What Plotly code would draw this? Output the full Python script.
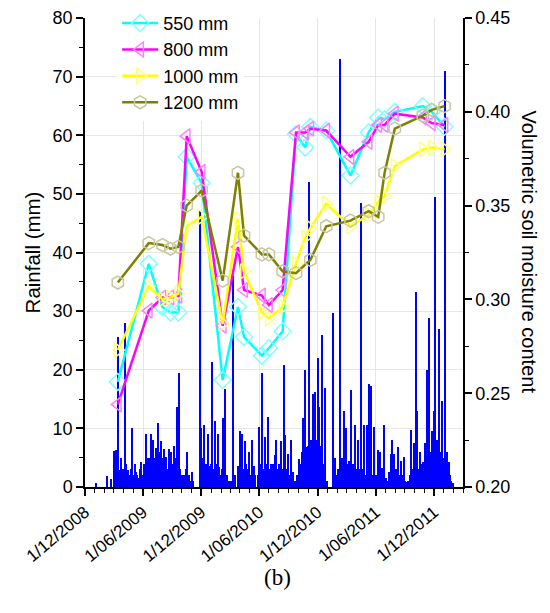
import plotly.graph_objects as go

# ---------------- Daily rainfall (mm) ----------------
rain_dates = [
    "2009-01-04", "2009-02-08", "2009-02-21", "2009-03-03", "2009-03-09", "2009-03-12", "2009-03-16",
    "2009-03-20", "2009-03-24", "2009-03-28", "2009-04-01", "2009-04-06", "2009-04-10", "2009-04-16",
    "2009-04-20", "2009-04-24", "2009-04-29", "2009-05-03", "2009-05-06", "2009-05-10", "2009-05-14",
    "2009-05-18", "2009-05-22", "2009-05-26", "2009-05-30", "2009-06-03", "2009-06-06", "2009-06-10",
    "2009-06-14", "2009-06-18", "2009-06-22", "2009-06-24", "2009-06-27", "2009-06-30", "2009-07-04",
    "2009-07-07", "2009-07-10", "2009-07-13", "2009-07-16", "2009-07-20", "2009-07-24", "2009-07-26",
    "2009-07-29", "2009-08-01", "2009-08-05", "2009-08-08", "2009-08-12", "2009-08-16", "2009-08-21",
    "2009-08-25", "2009-08-29", "2009-09-02", "2009-09-05", "2009-09-08", "2009-09-12", "2009-09-17",
    "2009-09-20", "2009-09-23", "2009-09-26", "2009-09-29", "2009-10-03", "2009-10-09", "2009-10-13",
    "2009-10-18", "2009-10-23", "2009-10-27", "2009-11-01", "2009-11-05", "2009-11-26", "2009-12-01",
    "2009-12-05", "2009-12-08", "2009-12-11", "2009-12-15", "2009-12-18", "2009-12-22", "2009-12-27",
    "2009-12-30", "2010-01-02", "2010-01-05", "2010-01-09", "2010-01-12", "2010-01-16", "2010-01-19",
    "2010-01-22", "2010-01-27", "2010-01-30", "2010-02-03", "2010-02-08", "2010-02-11", "2010-02-15",
    "2010-02-20", "2010-02-25", "2010-03-05", "2010-03-11", "2010-03-15", "2010-03-18", "2010-03-25",
    "2010-03-29", "2010-04-02", "2010-04-05", "2010-04-08", "2010-04-12", "2010-04-16", "2010-04-20",
    "2010-04-23", "2010-04-29", "2010-05-02", "2010-05-08", "2010-05-12", "2010-05-16", "2010-05-20",
    "2010-05-27", "2010-05-31", "2010-06-03", "2010-06-07", "2010-06-10", "2010-06-14", "2010-06-19",
    "2010-06-23", "2010-06-29", "2010-07-02", "2010-07-08", "2010-07-12", "2010-07-15", "2010-07-19",
    "2010-07-23", "2010-07-27", "2010-08-01", "2010-08-04", "2010-08-09", "2010-08-13", "2010-08-18",
    "2010-08-22", "2010-08-26", "2010-08-31", "2010-09-03", "2010-09-08", "2010-09-12", "2010-09-16",
    "2010-09-20", "2010-09-28", "2010-10-03", "2010-10-08", "2010-10-10", "2010-10-13", "2010-10-17",
    "2010-10-20", "2010-10-22", "2010-10-25", "2010-10-28", "2010-11-01", "2010-11-05", "2010-11-08",
    "2010-11-11", "2010-11-14", "2010-11-18", "2010-11-21", "2010-11-24", "2010-11-28", "2010-12-01",
    "2010-12-04", "2010-12-07", "2010-12-10", "2010-12-13", "2010-12-16", "2010-12-20", "2010-12-23",
    "2010-12-26", "2010-12-30", "2011-01-18", "2011-01-22", "2011-01-26", "2011-01-30", "2011-02-04",
    "2011-02-08", "2011-02-11", "2011-02-15", "2011-02-18", "2011-02-22", "2011-02-26", "2011-03-01",
    "2011-03-04", "2011-03-10", "2011-03-13", "2011-03-16", "2011-03-19", "2011-03-22", "2011-03-25",
    "2011-03-29", "2011-04-02", "2011-04-08", "2011-04-11", "2011-04-14", "2011-04-17", "2011-04-21",
    "2011-04-24", "2011-04-27", "2011-05-01", "2011-05-06", "2011-05-09", "2011-05-13", "2011-05-16",
    "2011-05-19", "2011-05-23", "2011-05-28", "2011-06-02", "2011-06-05", "2011-06-09", "2011-06-13",
    "2011-06-16", "2011-06-20", "2011-06-24", "2011-06-28", "2011-07-02", "2011-07-05", "2011-07-09",
    "2011-07-13", "2011-07-16", "2011-07-19", "2011-07-23", "2011-07-27", "2011-07-30", "2011-08-02",
    "2011-08-05", "2011-08-08", "2011-08-11", "2011-08-15", "2011-08-18", "2011-08-21", "2011-08-24",
    "2011-08-28", "2011-09-01", "2011-09-04", "2011-09-08", "2011-09-12", "2011-09-16", "2011-09-20",
    "2011-09-25", "2011-09-29", "2011-10-02", "2011-10-05", "2011-10-07", "2011-10-10", "2011-10-13",
    "2011-10-17", "2011-10-20", "2011-10-24", "2011-10-28", "2011-11-01", "2011-11-03", "2011-11-06",
    "2011-11-10", "2011-11-14", "2011-11-17", "2011-11-21", "2011-11-24", "2011-11-27", "2011-11-30",
    "2011-12-02", "2011-12-05", "2011-12-08", "2011-12-11", "2011-12-14", "2011-12-18", "2011-12-22",
    "2011-12-25", "2011-12-28", "2011-12-31", "2012-01-04", "2012-01-08", "2012-01-12", "2012-01-15",
    "2012-01-18", "2012-01-21", "2012-01-25", "2012-01-31",
]
rain_mm = [
    0.6, 1.9, 1.3, 6.2, 6.3, 4.0, 25.6,
    2.9, 5.0, 3.0, 3.0, 28.0, 4.0, 2.9,
    2.0, 3.0, 10.0, 2.0, 4.0, 2.5, 2.0,
    1.5, 3.0, 4.2, 2.0, 2.0, 4.0, 9.0,
    3.0, 5.0, 5.0, 3.0, 9.0, 4.0, 8.0,
    5.0, 3.0, 6.6, 4.0, 10.9, 6.0, 3.0,
    7.8, 5.0, 6.5, 4.0, 5.2, 3.0, 6.5,
    4.0, 6.0, 3.0, 4.0, 7.0, 5.0, 13.7,
    4.0, 19.4, 3.0, 2.0, 2.0, 2.0, 3.0,
    6.0, 2.0, 1.0, 2.5, 1.0, 47.0, 10.0,
    4.0, 5.0, 10.5, 4.0, 3.0, 9.0, 3.5,
    3.0, 4.0, 21.4, 3.0, 11.2, 4.0, 3.0,
    9.0, 3.4, 2.0, 3.0, 11.8, 2.0, 16.7,
    2.0, 1.0, 1.0, 36.0, 1.0, 2.0, 3.5,
    3.0, 9.5, 4.0, 9.0, 3.0, 7.8, 4.0,
    3.0, 6.0, 2.0, 8.0, 3.0, 3.5, 2.0,
    2.0, 10.3, 3.0, 4.0, 19.4, 3.0, 8.6,
    4.0, 12.0, 3.0, 4.0, 3.0, 4.0, 5.4,
    8.0, 3.0, 4.0, 3.0, 7.8, 3.0, 20.8,
    8.8, 3.0, 5.7, 2.0, 8.0, 1.0, 2.5,
    1.0, 2.0, 4.8, 3.0, 4.0, 6.0, 11.8,
    5.0, 20.0, 6.0, 6.8, 7.0, 52.0, 6.0,
    8.0, 3.4, 15.8, 9.0, 16.2, 8.0, 22.0,
    9.0, 13.7, 7.0, 6.0, 26.0, 4.0, 3.0,
    16.9, 1.0, 29.7, 3.0, 5.0, 2.0, 3.0,
    4.0, 73.0, 5.0, 4.0, 13.0, 3.0, 10.0,
    4.0, 4.5, 3.0, 16.5, 3.0, 4.0, 3.0,
    10.5, 3.0, 8.0, 3.0, 2.0, 48.5, 3.0,
    3.0, 10.6, 2.0, 10.6, 4.0, 17.5, 3.0,
    17.2, 2.0, 10.3, 2.0, 2.0, 6.3, 3.0,
    6.0, 3.2, 2.0, 10.6, 1.0, 1.5, 1.0,
    2.5, 2.0, 5.7, 8.0, 3.0, 5.7, 2.0,
    3.0, 2.0, 6.8, 2.0, 2.0, 4.5, 2.0,
    5.2, 1.0, 0.8, 0.5, 1.0, 2.0, 9.8,
    3.0, 7.5, 2.0, 4.0, 33.2, 13.0, 3.0,
    6.0, 3.0, 4.0, 4.3, 3.0, 7.5, 5.0,
    20.0, 7.0, 28.8, 6.0, 9.5, 8.0, 13.0,
    6.0, 49.5, 5.0, 8.0, 4.0, 27.0, 6.0,
    3.0, 14.6, 5.0, 71.0, 4.0, 6.0, 2.0,
    4.3, 2.0, 1.0, 0.6,
]

# ---------------- Volumetric soil moisture ----------------
sm_dates = [
    "2009-03-14", "2009-06-19", "2009-08-01", "2009-08-26", "2009-09-20", "2009-10-16",
    "2009-12-02", "2010-02-06", "2010-03-26", "2010-04-14", "2010-06-09", "2010-07-01",
    "2010-08-13", "2010-09-24", "2010-10-23", "2010-11-08", "2010-12-28", "2011-03-14",
    "2011-05-10", "2011-06-09", "2011-06-29", "2011-07-31", "2011-10-27", "2011-11-24",
    "2012-01-03",
]
sm_550 = [0.256, 0.319, 0.296, 0.293, 0.293, 0.376, 0.362, 0.257, 0.296, 0.280, 0.270, 0.274,
          0.283, 0.388, 0.381, 0.392, 0.390, 0.366, 0.389, 0.397, 0.396, 0.400, 0.403, 0.400,
          0.392]
sm_800 = [0.244, 0.294, 0.301, 0.301, 0.302, 0.387, 0.368, 0.286, 0.328, 0.305, 0.302, 0.297,
          0.305, 0.389, 0.389, 0.391, 0.390, 0.376, 0.384, 0.393, 0.393, 0.399, 0.397, 0.394,
          0.393]
sm_1000 = [0.273, 0.307, 0.300, 0.301, 0.303, 0.339, 0.344, 0.287, 0.343, 0.315, 0.293, 0.290,
           0.296, 0.319, 0.333, 0.338, 0.351, 0.339, 0.345, 0.352, 0.355, 0.371, 0.380, 0.381,
           0.380]
sm_1200 = [0.309, 0.330, 0.329, 0.327, 0.328, 0.350, 0.358, 0.310, 0.3675, 0.334, 0.324, 0.324,
           0.315, 0.314, None, 0.321, 0.339, 0.342, 0.347, 0.344, 0.3675, 0.391, 0.398, 0.401,
           0.403]

series_names = ["550 mm", "800 mm", "1000 mm", "1200 mm"]
series_vals = [sm_550, sm_800, sm_1000, sm_1200]
line_colors = ["#00ffff", "#ff00ff", "#ffff00", "#808000"]
marker_edges = ["#80ffff", "#ff80ff", "#ffff80", "#c8c8a0"]
marker_symbols = ["diamond", "triangle-left", "triangle-right", "hexagon"]

x_tick_dates = ["2008-12-01", "2009-06-01", "2009-12-01", "2010-06-01",
                "2010-12-01", "2011-06-01", "2011-12-01"]

FONT = "Liberation Sans, Arial, sans-serif"

fig = go.Figure()

fig.add_trace(go.Bar(
    x=rain_dates, y=rain_mm, width=4.0 * 86400000,
    marker=dict(color="#0000ff", line=dict(width=0)),
    showlegend=False, yaxis="y",
))

for name, vals, lc, mc, sym in zip(series_names, series_vals, line_colors, marker_edges, marker_symbols):
    fig.add_trace(go.Scatter(
        x=sm_dates, y=vals, name=name, yaxis="y2", mode="lines+markers",
        connectgaps=True,
        line=dict(color=lc, width=2.5),
        marker=dict(symbol=sym, size=13, color="rgba(255,255,255,0)",
                    line=dict(color=mc, width=1.5)),
    ))

fig.update_layout(
    width=542, height=605,
    margin=dict(l=77, r=87, t=10, b=126, autoexpand=False),
    paper_bgcolor="white", plot_bgcolor="white",
    font=dict(family=FONT, color="black", size=17),
    bargap=0,
    showlegend=True,
    legend=dict(x=0.085, y=1.028, xanchor="left", yanchor="top",
                bgcolor="white", font=dict(size=18), itemwidth=36,
                tracegroupgap=0),
    xaxis=dict(
        type="date", range=["2008-12-01", "2012-03-01"], automargin=False,
        tickvals=x_tick_dates, tickformat="%-d/%m/%Y", tickangle=-40,
        tickfont=dict(size=17),
        ticks="outside", ticklen=7, tickwidth=1.5, tickcolor="black",
        showline=True, linecolor="black", linewidth=1.5,
        showgrid=True, gridcolor="#e6e6e6", gridwidth=1,
        minor=dict(dtick="M1", tick0="2008-12-01", ticks="outside", ticklen=4,
                   tickwidth=1.2, tickcolor="black", showgrid=False),
        zeroline=False,
    ),
    yaxis=dict(
        range=[0, 80], dtick=10, tick0=0, automargin=False,
        title=dict(text="Rainfall (mm)", font=dict(size=20.5), standoff=6),
        tickfont=dict(size=18),
        ticks="outside", ticklen=7, tickwidth=1.5, tickcolor="black",
        showline=True, linecolor="black", linewidth=1.5,
        showgrid=True, gridcolor="#e6e6e6", gridwidth=1,
        minor=dict(dtick=5, ticks="outside", ticklen=4, tickwidth=1.2,
                   tickcolor="black", showgrid=False),
        zeroline=False,
    ),
    yaxis2=dict(
        range=[0.20, 0.45], dtick=0.05, tick0=0.20, tickformat=".2f",
        overlaying="y", side="right", automargin=False,
        tickfont=dict(size=18),
        ticks="outside", ticklen=7, tickwidth=1.5, tickcolor="black",
        showline=True, linecolor="black", linewidth=1.5,
        showgrid=False, zeroline=False,
        minor=dict(dtick=0.025, ticks="outside", ticklen=4, tickwidth=1.2,
                   tickcolor="black", showgrid=False),
    ),
    annotations=[
        dict(text="Volumetric soil moisture content", xref="paper", yref="paper",
             x=1.177, y=0.5, textangle=90, showarrow=False,
             font=dict(size=20, family=FONT), xanchor="center", yanchor="middle"),
        dict(text="(b)", xref="paper", yref="paper", x=0.508, y=-0.194,
             showarrow=False, font=dict(size=23, family="Liberation Serif, Times New Roman, serif"),
             xanchor="center", yanchor="middle"),
    ],
)

fig.write_html("out.html")
